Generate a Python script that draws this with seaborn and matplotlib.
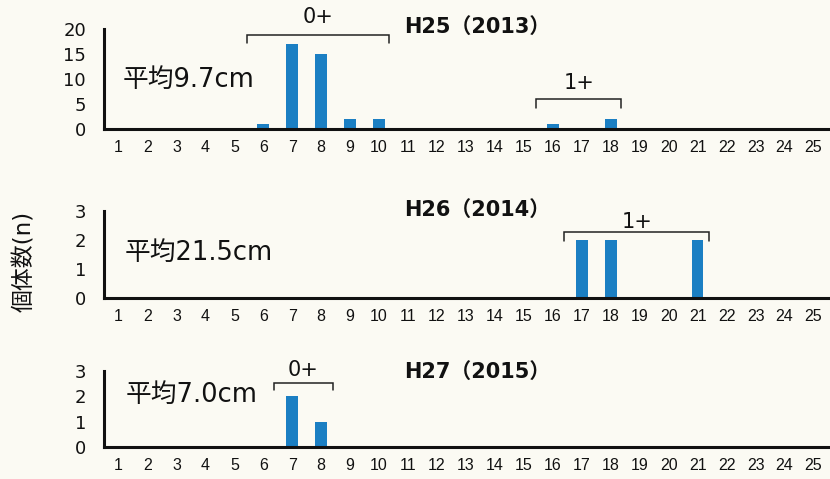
import matplotlib
matplotlib.use("Agg")
import matplotlib.pyplot as plt
import seaborn as sns
import numpy as np
import pandas as pd

sns.set_style("white")
plt.rcParams['font.family'] = ['DejaVu Sans', 'Noto Sans CJK JP']

sizes = list(range(1, 26))
counts_2013 = {6: 1, 7: 17, 8: 15, 9: 2, 10: 2, 16: 1, 18: 2}
counts_2014 = {17: 2, 18: 2, 21: 2}
counts_2015 = {7: 2, 8: 1}
titles = ["H25（2013）", "H26（2014）", "H27（2015）"]
means = ["平均9.7cm", "平均21.5cm", "平均7.0cm"]
ylims = [20, 3, 3]
yticks = [[0, 5, 10, 15, 20], [0, 1, 2, 3], [0, 1, 2, 3]]
ylabel = "個体数(n)"

bar_color = "#1b7fc3"
bg = "#fbfaf3"
ink = "#111111"

fig = plt.figure(figsize=(8.3, 4.79), dpi=100, facecolor=bg)
positions = [
    [0.1253, 0.7307, 0.8723, 0.2088],
    [0.1253, 0.3779, 0.8723, 0.1816],
    [0.1253, 0.0668, 0.8723, 0.1587],
]
all_counts = [counts_2013, counts_2014, counts_2015]

# annotation layout: (title_y, mean_x, mean_y, brackets [(x0,x1,y,ydrop,label_y,label)])
layouts = [
    (20.4, 1.13, 9.8, [(5.45, 10.35, 18.8, 1.6, 22.4, "0+"),
                       (15.43, 18.36, 6.0, 1.8, 9.2, "1+")]),
    (3.03, 1.2, 1.55, [(16.4, 21.4, 2.28, 0.31, 2.62, "1+")]),
    (2.96, 1.26, 2.05, [(6.36, 8.4, 2.53, 0.28, 3.04, "0+")]),
]

for i, (pos, cdict) in enumerate(zip(positions, all_counts)):
    ax = fig.add_axes(pos)
    ax.set_facecolor("none")
    df = pd.DataFrame({"size": sizes, "n": [cdict.get(s, 0) for s in sizes]})
    sns.barplot(data=df, x="size", y="n", native_scale=True, width=0.4,
                color=bar_color, saturation=1, ax=ax, edgecolor="none")
    ax.set_xlim(0.5, 25.5)
    ax.set_ylim(0, ylims[i])
    ax.set_xlabel("")
    ax.set_ylabel("")
    for s in ["top", "right"]:
        ax.spines[s].set_visible(False)
    for s in ["left", "bottom"]:
        ax.spines[s].set_linewidth(2.2)
        ax.spines[s].set_color(ink)
    ax.set_xticks(np.arange(0.5, 26, 1))
    ax.set_xticklabels([])
    ax.set_xticks(sizes, minor=True)
    ax.set_xticklabels([str(s) for s in sizes], minor=True, fontsize=11.5,
                       family=['Liberation Sans', 'DejaVu Sans'], color=ink)
    ax.tick_params(axis="x", which="major", direction="out", length=3.5, width=2.2, color=ink)
    ax.tick_params(axis="x", which="minor", length=0, pad=8)
    ax.set_yticks(yticks[i])
    ax.set_yticklabels([str(v) for v in yticks[i]], fontsize=13, color=ink)
    ax.tick_params(axis="y", direction="out", length=4, width=2, pad=9, color=ink)

    ty, mx, my, brackets = layouts[i]
    ax.text(10.85, ty, titles[i], fontsize=15, fontweight="bold", ha="left", va="center",
            clip_on=False, color=ink)
    ax.text(mx, my, means[i], fontsize=18.5, ha="left", va="center", color=ink)
    for (x0, x1, y, yd, ly, lab) in brackets:
        ax.plot([x0, x0, x1, x1], [y - yd, y, y, y - yd], color="#222222", lw=1.1,
                clip_on=False, solid_joinstyle="miter")
        ax.text((x0 + x1) / 2, ly, lab, fontsize=15, ha="center", va="center",
                clip_on=False, color=ink)

fig.text(0.030, 0.455, ylabel, rotation=90, fontsize=16.5, ha="center", va="center",
         color=ink)

fig.savefig("out.png", dpi=100, facecolor=bg)
